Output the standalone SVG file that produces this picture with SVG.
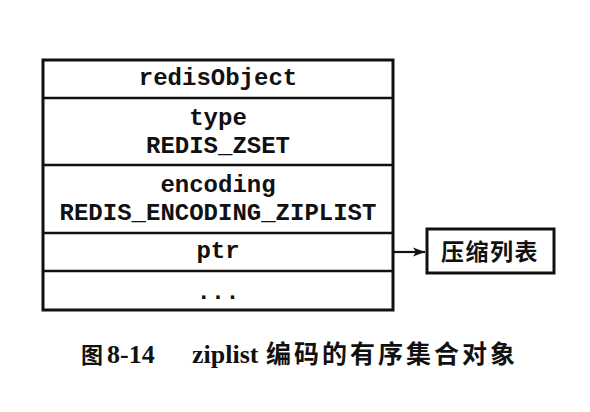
<svg xmlns="http://www.w3.org/2000/svg" width="590" height="412" viewBox="0 0 590 412">
<style>
.mono{font-family:"Liberation Mono","Courier New",monospace;font-size:24px;font-weight:bold;fill:#111;text-anchor:middle}
.cjk{font-family:"Noto Sans CJK SC",sans-serif;font-weight:bold;fill:#111}
.cap{font-family:"Liberation Serif","Noto Sans CJK SC",serif;font-weight:bold;fill:#111;font-size:26px}
.box{fill:#fff;stroke:#111;stroke-width:3}
.div{stroke:#111;stroke-width:2.5;fill:none}
.conn{stroke:#111;stroke-width:2.2;fill:none}
</style>
<defs>
<marker id="ah" viewBox="0 0 12 10" refX="12" refY="5" markerWidth="12" markerHeight="10" markerUnits="userSpaceOnUse" orient="auto">
<path d="M0,0.5 L12,5 L0,9.5 L3,5 z" fill="#111"/>
</marker>
</defs>
<rect width="590" height="412" fill="#fff"/>
<g id="redisObject">
<rect class="box" x="43" y="60" width="350" height="250"/>
<line class="div" x1="43" y1="98" x2="393" y2="98"/>
<line class="div" x1="43" y1="165" x2="393" y2="165"/>
<line class="div" x1="43" y1="233" x2="393" y2="233"/>
<line class="div" x1="43" y1="271" x2="393" y2="271"/>
<text class="mono" x="218" y="85">redisObject</text>
<text class="mono" x="218" y="125">type</text>
<text class="mono" x="218" y="153">REDIS_ZSET</text>
<text class="mono" x="218" y="192">encoding</text>
<text class="mono" x="218" y="220">REDIS_ENCODING_ZIPLIST</text>
<text class="mono" x="218" y="258">ptr</text>
<text class="mono" x="218" y="299">...</text>
</g>
<g id="ziplist">
<rect class="box" x="427" y="229" width="127" height="44"/>
<text class="cjk" x="441" y="260" font-size="23" letter-spacing="1.5">压缩列表</text>
</g>
<g id="connectors">
<line class="conn" x1="393" y1="252" x2="425" y2="252" marker-end="url(#ah)"/>
</g>
<g id="caption">
<text class="cap" y="363"><tspan x="81" font-family="Noto Sans CJK SC,sans-serif" font-size="22">图</tspan><tspan x="107">8-14</tspan><tspan x="192">ziplist</tspan><tspan x="266" font-family="Noto Sans CJK SC,sans-serif" font-size="25" letter-spacing="3">编码的有序集合对象</tspan></text>
</g>
</svg>
